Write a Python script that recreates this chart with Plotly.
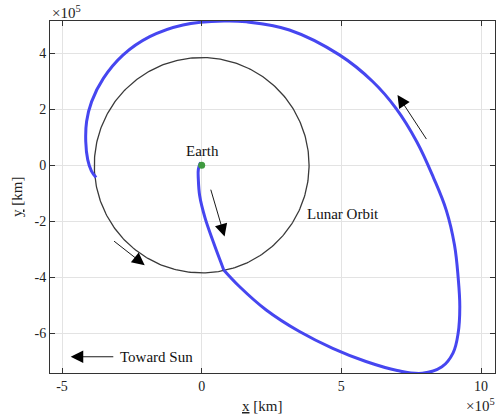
import numpy as np
import plotly.graph_objects as go

# Trajectory in units of 1e5 km (Earth-centred frame)
# Leg 1: departure from Earth to lunar flyby
leg1_x = [-0.04, -0.12, -0.12, -0.07, 0.12, 0.42, 0.68, 0.79]
leg1_y = [0.10, -0.15, -0.50, -1.10, -1.88, -2.75, -3.45, -3.74]

# Leg 2: post-flyby loop
leg2_x = [0.79, 1.36, 2.31, 3.50, 4.69, 5.88, 7.00, 7.90, 8.60, 9.00, 9.18, 9.24,
          9.18, 9.05, 8.76, 8.30, 7.70, 6.95, 6.12, 4.93, 3.14, 1.60, 0.80, -0.67,
          -1.86, -2.81, -3.52, -3.94, -4.12, -4.15, -4.08, -3.95, -3.78]
leg2_y = [-3.74, -4.34, -5.17, -5.94, -6.54, -7.01, -7.33, -7.43, -7.20, -6.70, -6.00, -5.05,
          -4.00, -2.85, -1.62, -0.45, 0.84, 2.04, 2.99, 3.94, 4.83, 5.12, 5.15, 5.01,
          4.59, 3.94, 3.10, 2.27, 1.56, 0.84, 0.20, -0.20, -0.44]

lunar_radius = 3.844  # 1e5 km

# Direction arrows: (tail_x, tail_y, head_x, head_y)
arrows = [
    (0.31, -0.82, 0.82, -2.55),
    (-3.19, -2.67, -2.04, -3.57),
    (8.08, 0.88, 7.01, 2.51),
    (-3.11, -6.84, -4.69, -6.84),
]

x_ticks = [-5, 0, 5, 10]
y_ticks = [-6, -4, -2, 0, 2, 4]

FONT = "Liberation Serif"
BLUE = "#4646f0"

theta = np.linspace(0, 2 * np.pi, 361)
fig = go.Figure()
fig.add_trace(go.Scatter(x=lunar_radius * np.cos(theta), y=lunar_radius * np.sin(theta),
                         mode="lines", line=dict(color="#3a3a3a", width=1.3),
                         hoverinfo="skip"))
fig.add_trace(go.Scatter(x=leg1_x, y=leg1_y, mode="lines",
                         line=dict(color=BLUE, width=3, shape="spline", smoothing=1.1)))
fig.add_trace(go.Scatter(x=leg2_x, y=leg2_y, mode="lines",
                         line=dict(color=BLUE, width=3, shape="spline", smoothing=1.1)))
fig.add_trace(go.Scatter(x=[0], y=[0], mode="markers",
                         marker=dict(color="#3f9a3f", size=7)))

for tx, ty, hx, hy in arrows:
    fig.add_annotation(x=hx, y=hy, ax=tx, ay=ty, xref="x", yref="y", axref="x", ayref="y",
                       text="", showarrow=True, arrowhead=2, arrowsize=2.8,
                       arrowwidth=0.9, arrowcolor="black", standoff=0)

txt = dict(family=FONT, size=15, color="#111")
fig.add_annotation(x=0.03, y=0.52, text="Earth", showarrow=False, font=txt,
                   xanchor="center", yanchor="middle")
fig.add_annotation(x=3.71, y=-1.75, text="Lunar Orbit", showarrow=False, font=txt,
                   xanchor="left", yanchor="middle")
fig.add_annotation(x=-3.0, y=-6.84, text="Toward Sun", showarrow=False, font=txt,
                   xanchor="left", yanchor="middle")

lab = dict(family=FONT, size=15, color="#222")
pixel_labels = [
    dict(text="<u>x</u> [km]", x=262, y=406, xanchor="center"),
    dict(text="<u>y</u> [km]", x=17, y=197, xanchor="center", textangle=-90),
    dict(text="×10<sup>5</sup>", x=50, y=12, xanchor="left"),
    dict(text="×10<sup>5</sup>", x=497, y=405, xanchor="right"),
]

# pixel positions converted to paper coordinates
L, R, T, B = 50, 1, 21, 46
W, H = 496, 419
pw, ph = W - L - R, H - T - B
for p in pixel_labels:
    fig.add_annotation(text=p["text"], x=(p["x"] - L) / pw, y=(H - B - p["y"]) / ph,
                       xref="paper", yref="paper", xanchor=p["xanchor"], yanchor="middle",
                       textangle=p.get("textangle", 0), showarrow=False, font=lab)

axis_common = dict(showgrid=True, gridcolor="#e3e3e3", gridwidth=1, zeroline=False,
                   showline=True, linecolor="#333", linewidth=1, mirror="ticks",
                   ticks="inside", ticklen=5, tickcolor="#333",
                   tickfont=dict(family=FONT, size=14, color="#222"))

fig.update_layout(
    width=W, height=H, margin=dict(l=L, r=R, t=T, b=B),
    paper_bgcolor="white", plot_bgcolor="white", showlegend=False,
    xaxis=dict(range=[-5.43, 10.5], tickvals=x_ticks,
               ticktext=[str(v) for v in x_ticks], **axis_common),
    yaxis=dict(range=[-7.42, 5.15], tickvals=y_ticks,
               ticktext=[str(v) for v in y_ticks], **axis_common),
)

fig.write_html("out.html")
